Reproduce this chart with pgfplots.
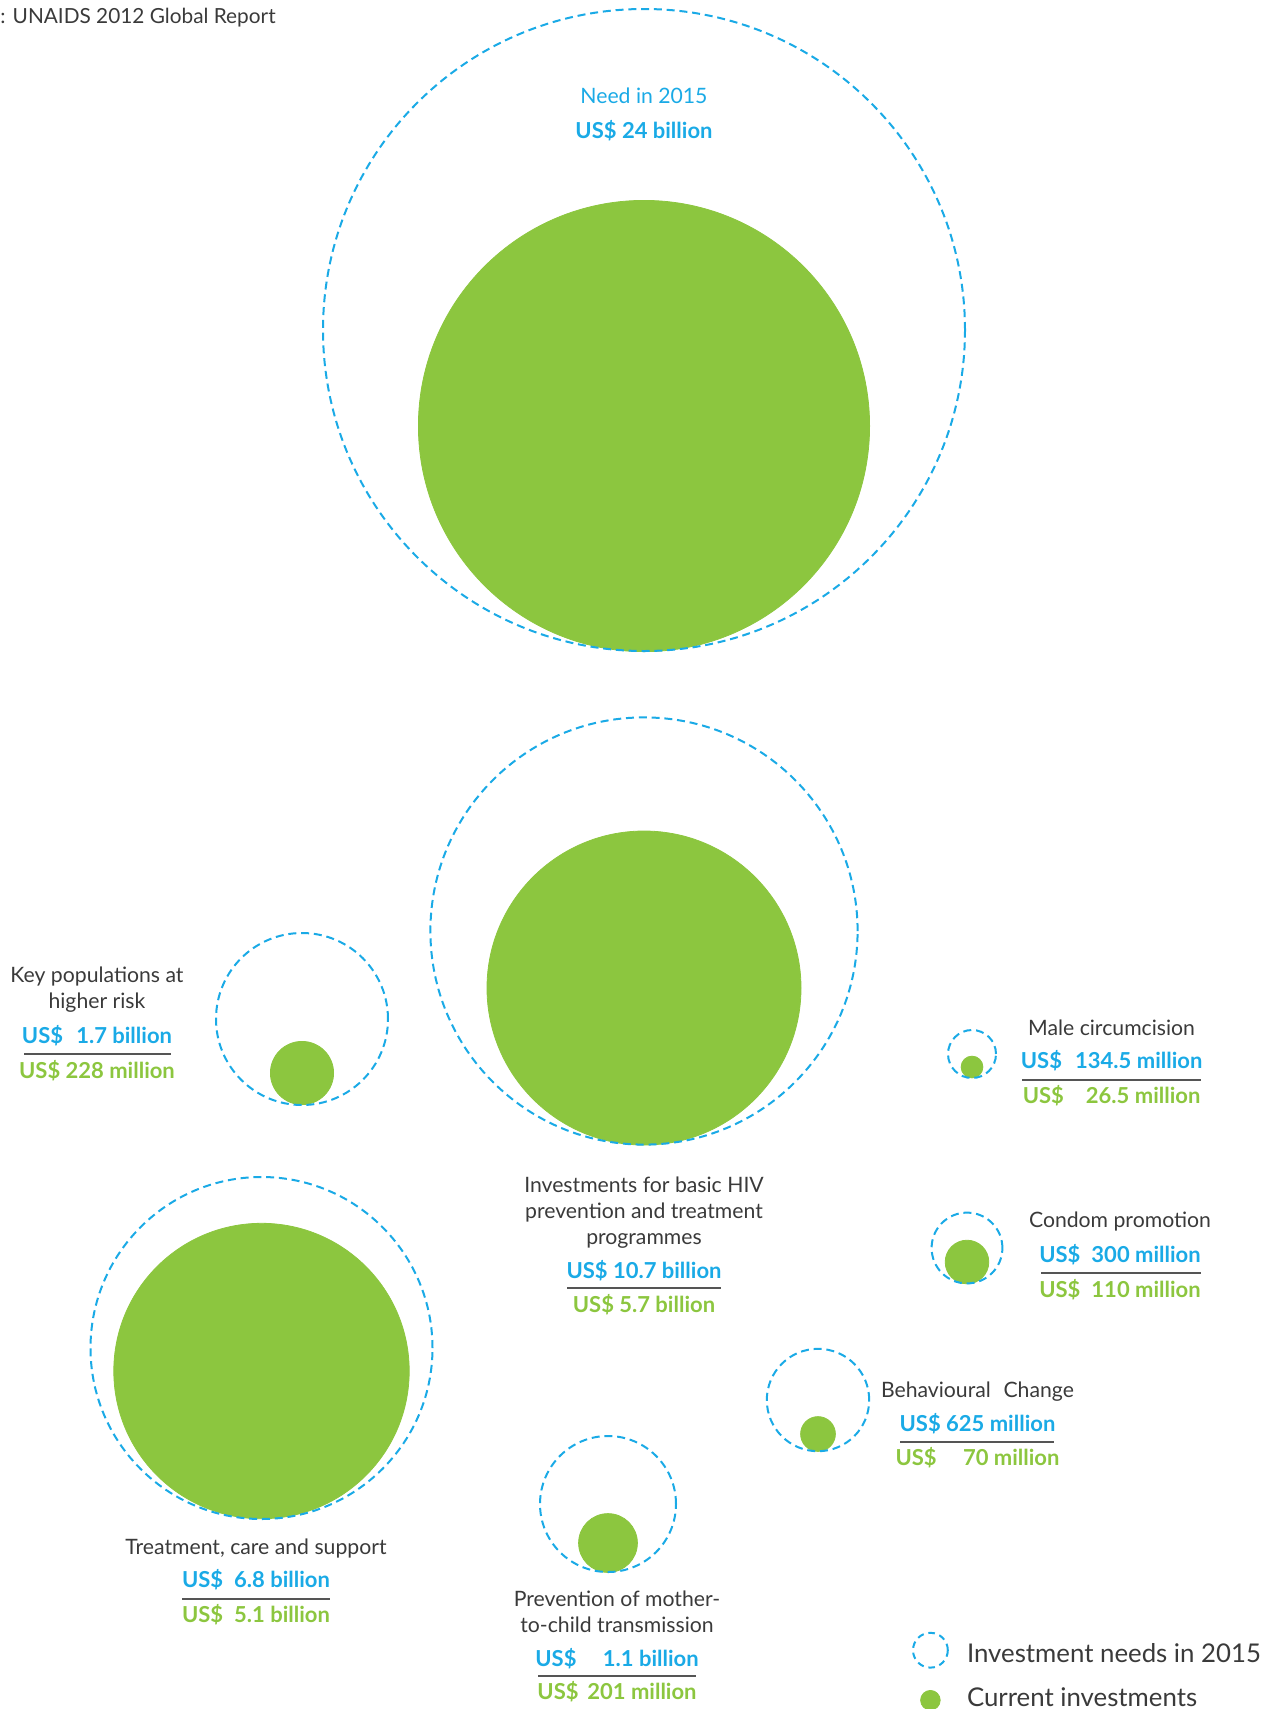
\documentclass[border=0pt]{standalone}
\usepackage{pgfplots}
\usepackage{pgfplotstable}
\pgfplotsset{compat=1.18}
\usepackage{fontspec}
\setmainfont{Lato}
\definecolor{needblue}{HTML}{1AAAE6}
\definecolor{curgreen}{HTML}{8CC63F}
\definecolor{txtgray}{HTML}{3A3A3A}
\definecolor{sepgray}{HTML}{555555}

% need circles: centre x, centre y, radius (pixels of the figure)
\pgfplotstableread{
x y r
644 330 321
644 931 213.6
302 1019 86
972 1054 24
967 1248 35.4
818 1400 51.2
261.5 1348 171
608 1504 68
}\needtab
% current investment circles
\pgfplotstableread{
x y r
644 426 225.6
644 988 157
302 1073 31.6
972 1067 10.9
967 1262 21.8
818 1434 17.4
261.5 1371 147.7
608 1543 29.4
}\curtab

\begin{document}
\begin{tikzpicture}[
  lab/.style={anchor=base, yshift=-0.36em, inner sep=0pt, font=\fontsize{10.6}{12}\selectfont, text=txtgray},
  blu/.style={lab, text=needblue, font=\fontsize{11}{12}\selectfont\bfseries},
  grn/.style={lab, text=curgreen, font=\fontsize{11}{12}\selectfont\bfseries},
  sep/.style={draw=sepgray, line width=0.75pt}
]
\begin{axis}[
  scale only axis, width=637pt, height=854.5pt,
  xmin=0, xmax=1274, ymin=0, ymax=1709, y dir=reverse,
  hide axis, clip=false,
  reverse legend,
  legend cell align=left,
  legend style={at={(axis cs:905,1676)}, anchor=west, draw=none, fill=none,
    font=\fontsize{12.9}{15}\selectfont, text=txtgray, row sep=0pt,
    nodes={inner sep=1.5pt}},
]
% current investments (filled)
\addplot[only marks, mark=*, scatter, point meta=explicit,
  scatter/use mapped color={draw=curgreen, fill=curgreen},
  visualization depends on={0.5*\thisrow{r} \as \rad},
  scatter/@pre marker code/.append style={/tikz/mark size=\rad},
  legend image code/.code={\fill[curgreen] (0pt,-1pt) circle (4.9pt); \path[draw=none, fill=none] (-9.5pt,-11pt) rectangle (16.8pt,11pt);}]
  table[x=x, y=y, meta=r] {\curtab};
\addlegendentry{Current investments}
% needs in 2015 (dashed)
\addplot[only marks, mark=o, scatter, point meta=explicit,
  scatter/use mapped color={draw=needblue},
  mark options={line width=1pt, dash pattern=on 4pt off 2.4pt},
  visualization depends on={0.5*\thisrow{r} \as \rad},
  scatter/@pre marker code/.append style={/tikz/mark size=\rad},
  legend image code/.code={\draw[needblue, line width=1pt, dash pattern=on 3.3pt off 2.4pt] (0pt,2pt) circle (8.7pt); \path[draw=none, fill=none] (-9.5pt,-11pt) rectangle (16.8pt,11pt);}]
  table[x=x, y=y, meta=r] {\needtab};
\addlegendentry{Investment needs in 2015}

% title
\node[lab, anchor=base west, font=\fontsize{10.4}{13}\selectfont] at (axis cs:0,16) {: UNAIDS 2012 Global Report};

% top
\node[lab, text=needblue] at (axis cs:644,96) {Need in 2015};
\node[blu] at (axis cs:644,131) {US\$ 24 billion};
\node[lab, text=white] at (axis cs:642,406.5) {Current HIV investments};
\node[blu, text=white] at (axis cs:642,441) {US\$ 16.8 billion};

% key populations
\node[lab] at (axis cs:97,975) {Key populations at};
\node[lab] at (axis cs:97,1001.5) {higher risk};
\node[blu] at (axis cs:97,1036) {US\$\hspace{0.6em}1.7 billion};
\draw[sep] (axis cs:24,1054) -- (axis cs:171,1054);
\node[grn] at (axis cs:97,1071) {US\$ 228 million};

% basic programmes
\node[lab] at (axis cs:644,1185) {Investments for basic HIV};
\node[lab] at (axis cs:644,1211) {prevention and treatment};
\node[lab] at (axis cs:644,1237) {programmes};
\node[blu] at (axis cs:644,1271) {US\$ 10.7 billion};
\draw[sep] (axis cs:567,1288) -- (axis cs:721,1288);
\node[grn] at (axis cs:644,1305.5) {US\$ 5.7 billion};

% male circumcision
\node[lab] at (axis cs:1111.6,1028) {Male circumcision};
\node[blu] at (axis cs:1111.6,1061.5) {US\$\hspace{0.6em}134.5 million};
\draw[sep] (axis cs:1022,1080) -- (axis cs:1201,1080);
\node[grn] at (axis cs:1111.6,1096) {US\$\hspace{1em}26.5 million};

% condom promotion
\node[lab] at (axis cs:1120,1220.6) {Condom promotion};
\node[blu] at (axis cs:1120,1255.5) {US\$\hspace{0.5em}300 million};
\draw[sep] (axis cs:1041,1273) -- (axis cs:1201,1273);
\node[grn] at (axis cs:1120,1290) {US\$\hspace{0.5em}110 million};

% behavioural change
\node[lab] at (axis cs:977.5,1390.6) {Behavioural\hspace{0.6em}Change};
\node[blu] at (axis cs:977.5,1424) {US\$ 625 million};
\draw[sep] (axis cs:900,1442) -- (axis cs:1054,1442);
\node[grn] at (axis cs:977.5,1458) {US\$\hspace{1.2em}70 million};

% treatment, care and support
\node[lab] at (axis cs:256,1547.5) {Treatment, care and support};
\node[blu] at (axis cs:256,1580) {US\$\hspace{0.5em}6.8 billion};
\draw[sep] (axis cs:182,1599) -- (axis cs:330,1599);
\node[grn] at (axis cs:256,1615) {US\$\hspace{0.5em}5.1 billion};

% PMTCT
\node[lab] at (axis cs:617,1599) {Prevention of mother-};
\node[lab] at (axis cs:617,1625) {to-child transmission};
\node[blu] at (axis cs:617,1659) {US\$\hspace{1.2em}1.1 billion};
\draw[sep] (axis cs:538,1676) -- (axis cs:696,1676);
\node[grn] at (axis cs:617,1692) {US\$\hspace{0.4em}201 million};

\coordinate (BL) at (axis cs:0,1709);
\coordinate (TR) at (axis cs:1274,0);
\end{axis}
\pgfresetboundingbox
\path (BL) rectangle (TR);
\end{tikzpicture}
\end{document}
